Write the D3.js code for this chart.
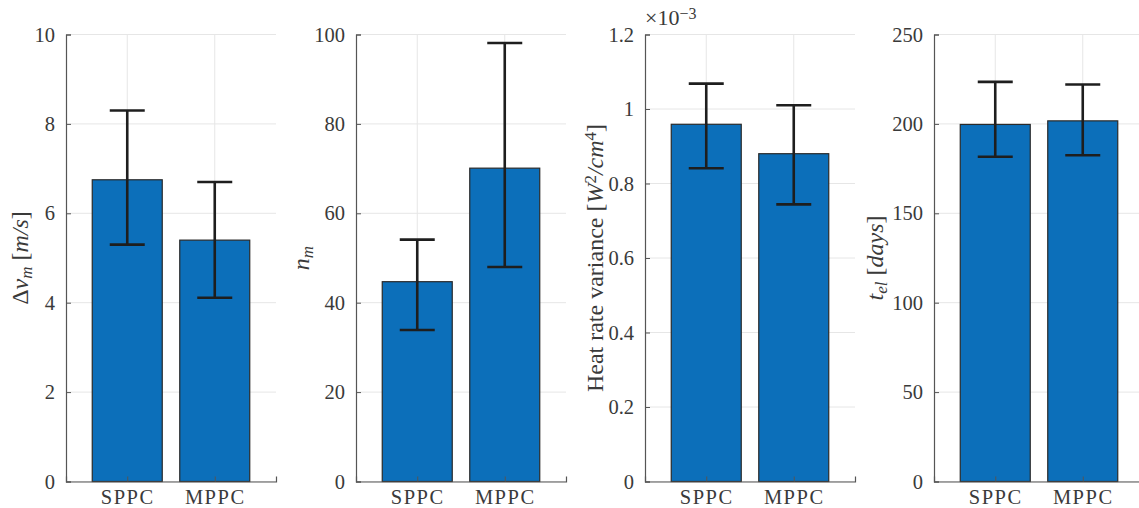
<!DOCTYPE html>
<html>
<head>
<meta charset="utf-8">
<script src="https://cdn.jsdelivr.net/npm/d3@7"></script>
<style>
  body { margin: 0; background: #fff; }
  svg { display: block; }
  text { font-family: 'Liberation Serif', 'DejaVu Serif', serif; fill: #3a3a3a; }
</style>
</head>
<body>
<script>

const categories = ['SPPC', 'MPPC']

// panel 1: delta v_m [m/s]
const dvMean = [6.75, 5.40]
const dvLow = [5.30, 4.11]
const dvHigh = [8.30, 6.70]
const dvTicks = [0, 2, 4, 6, 8, 10]

// panel 2: n_m
const nMean = [44.7, 70.1]
const nLow = [33.9, 48.0]
const nHigh = [54.1, 98.1]
const nTicks = [0, 20, 40, 60, 80, 100]

// panel 3: heat rate variance (x 1e-3)
const hrMean = [0.959, 0.880]
const hrLow = [0.841, 0.744]
const hrHigh = [1.068, 1.010]
const hrTicks = [0, 0.2, 0.4, 0.6, 0.8, 1, 1.2]

// panel 4: t_el [days]
const tMean = [199.7, 201.7]
const tLow = [181.6, 182.5]
const tHigh = [223.5, 222.0]
const tTicks = [0, 50, 100, 150, 200, 250]

const WIDTH = 1139
const HEIGHT = 508
const TOP = 34.5
const BOTTOM = 481.5
const AX_W = 210

const BAR = '#0c6fba'
const GRID = '#e6e6e6'
const AXIS = '#555'
const FONT = "'Liberation Serif', 'DejaVu Serif', serif"

const panels = [
  { left: 66, mean: dvMean, low: dvLow, high: dvHigh, ticks: dvTicks, labelX: 28,
    label: [['Δ', 'n'], ['v', 'i'], ['m', 'sub'], [' [', 'n'], ['m/s', 'i'], [']', 'n']] },
  { left: 356, mean: nMean, low: nLow, high: nHigh, ticks: nTicks, labelX: 309,
    label: [['n', 'i'], ['m', 'sub']] },
  { left: 645, mean: hrMean, low: hrLow, high: hrHigh, ticks: hrTicks, labelX: 603, exp: true,
    label: [['Heat rate variance [', 'n'], ['W', 'i'], ['2', 'sup'], ['/cm', 'i'], ['4', 'sup'], [']', 'n']] },
  { left: 934, mean: tMean, low: tLow, high: tHigh, ticks: tTicks, labelX: 883,
    label: [['t', 'i'], ['el', 'sub'], [' [', 'n'], ['days', 'i'], [']', 'n']] },
]

const svg = d3.select('body')
  .append('svg')
  .attr('width', WIDTH)
  .attr('height', HEIGHT)

panels.forEach(p => {

  const x = d3.scaleLinear()
    .domain([0.3, 2.7])
    .range([p.left, p.left + AX_W])

  const y = d3.scaleLinear()
    .domain([0, d3.max(p.ticks)])
    .range([BOTTOM, TOP])

  const g = svg.append('g')

  // grid
  g.selectAll('.hgrid')
    .data(p.ticks)
    .enter()
    .append('line')
    .attr('x1', x(0.3))
    .attr('x2', x(2.7))
    .attr('y1', d => y(d))
    .attr('y2', d => y(d))
    .attr('stroke', GRID)
    .attr('stroke-width', 1)

  g.selectAll('.vgrid')
    .data(categories)
    .enter()
    .append('line')
    .attr('x1', (d, i) => x(i + 1))
    .attr('x2', (d, i) => x(i + 1))
    .attr('y1', TOP)
    .attr('y2', BOTTOM)
    .attr('stroke', GRID)
    .attr('stroke-width', 1)

  // bars
  g.selectAll('rect')
    .data(p.mean)
    .enter()
    .append('rect')
    .attr('x', (d, i) => x(i + 1 - 0.4))
    .attr('width', x(1.4) - x(0.6))
    .attr('y', d => y(d))
    .attr('height', d => BOTTOM - y(d))
    .attr('fill', BAR)
    .attr('stroke', '#2a2a2a')
    .attr('stroke-width', 1.2)

  // error bars
  const eb = g.selectAll('.eb')
    .data(p.mean)
    .enter()
    .append('g')

  eb.append('line')
    .attr('x1', (d, i) => x(i + 1))
    .attr('x2', (d, i) => x(i + 1))
    .attr('y1', (d, i) => y(p.low[i]))
    .attr('y2', (d, i) => y(p.high[i]))

  eb.append('line')
    .attr('x1', (d, i) => x(i + 0.8))
    .attr('x2', (d, i) => x(i + 1.2))
    .attr('y1', (d, i) => y(p.low[i]))
    .attr('y2', (d, i) => y(p.low[i]))

  eb.append('line')
    .attr('x1', (d, i) => x(i + 0.8))
    .attr('x2', (d, i) => x(i + 1.2))
    .attr('y1', (d, i) => y(p.high[i]))
    .attr('y2', (d, i) => y(p.high[i]))

  eb.selectAll('line')
    .attr('stroke', '#1e1e1e')
    .attr('stroke-width', 2.6)

  // axes
  const yAxis = d3.axisLeft(y)
    .tickValues(p.ticks)
    .tickSize(-5)
    .tickPadding(11)
    .tickFormat(d3.format('~g'))

  const xAxis = d3.axisBottom(x)
    .tickValues([1, 2])
    .tickSize(-5)
    .tickPadding(22)
    .tickFormat((d, i) => categories[i])

  const ya = g.append('g')
    .attr('transform', 'translate(' + p.left + ',0)')
    .call(yAxis)

  const xa = g.append('g')
    .attr('transform', 'translate(0,' + BOTTOM + ')')
    .call(xAxis)

  ;[ya, xa].forEach(a => {
    a.attr('font-family', FONT).attr('font-size', 20)
    a.select('.domain').attr('stroke', AXIS).attr('stroke-width', 1.2)
    a.selectAll('.tick line').attr('stroke', AXIS)
    a.selectAll('.tick text')
      .style('font-size', '20.5px')
      .style('font-family', FONT)
      .attr('fill', '#3a3a3a')
  })
  ya.selectAll('.tick text').attr('dy', '0.32em')
  xa.selectAll('.tick text').attr('dy', '0').attr('y', 22.5).style('letter-spacing', '1.5px')

  // y label
  const lab = g.append('text')
    .attr('transform', 'translate(' + p.labelX + ',' + ((TOP + BOTTOM) / 2) + ') rotate(-90)')
    .attr('text-anchor', 'middle')
    .style('font-size', '24px')

  p.label.forEach(([t, k]) => {
    const ts = lab.append('tspan').text(t)
    if (k === 'i' || k === 'sub') ts.style('font-style', 'italic')
    if (k === 'sub') ts.attr('baseline-shift', '-25%').style('font-size', '17px')
    if (k === 'sup') ts.attr('baseline-shift', '40%').style('font-size', '17px')
  })

  if (p.exp) {
    const ex = g.append('text')
      .attr('x', p.left)
      .attr('y', 25)
      .style('font-size', '22px')
    ex.append('tspan').text('×10')
    ex.append('tspan').text('−3').attr('baseline-shift', '40%').style('font-size', '16px')
  }
})

</script>
</body>
</html>
